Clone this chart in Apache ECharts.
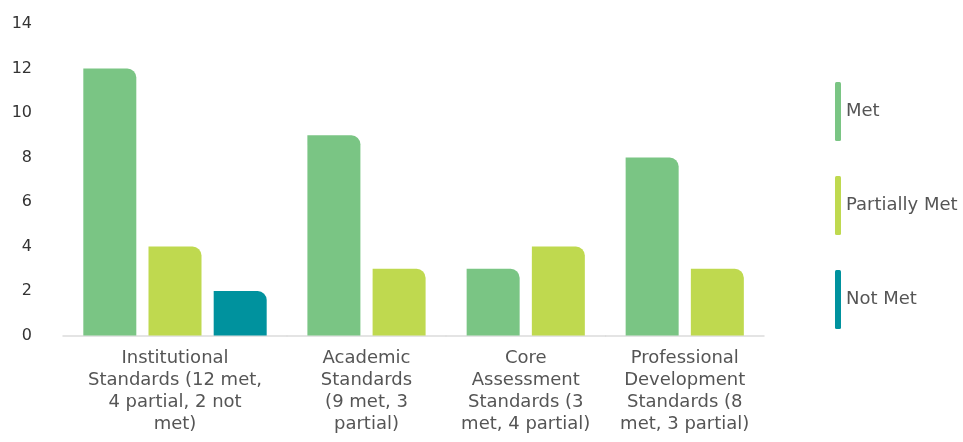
<!DOCTYPE html>
<html><head><meta charset="utf-8">
<script src="https://cdn.jsdelivr.net/npm/echarts@6/dist/echarts.min.js"></script>
<style>html,body{margin:0;padding:0;background:#fff}#c{width:963px;height:442px}</style>
</head><body><div id="c"></div>
<script>
const categories = [
  'Institutional\nStandards (12 met,\n4 partial, 2 not\nmet)',
  'Academic\nStandards\n(9 met, 3\npartial)',
  'Core\nAssessment\nStandards (3\nmet, 4 partial)',
  'Professional\nDevelopment\nStandards (8\nmet, 3 partial)'
];
const seriesNames = ['Met', 'Partially Met', 'Not Met'];
const met = [12, 9, 3, 8];
const partial = [4, 3, 4, 3];
const notMet = [2, null, null, null];
const yTicks = [0, 2, 4, 6, 8, 10, 12, 14];

const colors = ['#7AC584', '#BFD94F', '#00929E'];
const values = [met, partial, notMet];
const font = "'DejaVu Sans', sans-serif";

// grid horizontal extents (pixels)
const bounds = [63, 287, 446, 605.5, 764];
const grids = [], xAxes = [], yAxes = [], series = [];
categories.forEach((cat, i) => {
  grids.push({ left: bounds[i], width: bounds[i + 1] - bounds[i], top: 24, bottom: 106.5 });
  xAxes.push({
    type: 'category', gridIndex: i, data: [cat],
    axisTick: { show: false },
    axisLine: { lineStyle: { color: '#dcdcdc', width: 1.5 } },
    axisLabel: { interval: 0, margin: 12, color: '#555', fontSize: 18, lineHeight: 22, fontFamily: font }
  });
  yAxes.push({
    type: 'value', gridIndex: i, min: yTicks[0], max: yTicks[yTicks.length - 1], interval: 2,
    splitLine: { show: false }, axisLine: { show: false }, axisTick: { show: false },
    axisLabel: i === 0 ? { show: true, margin: 31, color: '#333', fontSize: 16, fontFamily: font, padding: [0, 0, 3, 0] } : { show: false }
  });
  seriesNames.forEach((name, s) => {
    const v = values[s][i];
    if (v === null || v === undefined) return;
    series.push({
      type: 'bar', name, xAxisIndex: i, yAxisIndex: i, data: [v],
      barWidth: 53, barGap: '23%',
      itemStyle: { color: colors[s], borderRadius: [0, 9, 0, 0] }
    });
  });
});

const chart = echarts.init(document.getElementById('c'), null, { renderer: 'canvas' });
chart.setOption({
  animation: false,
  color: colors,
  grid: grids, xAxis: xAxes, yAxis: yAxes, series,
  legend: {
    data: seriesNames, orient: 'vertical', left: 830, top: 77,
    itemWidth: 6, itemHeight: 59, itemGap: 35,
    icon: 'roundRect',
    textStyle: { color: '#555', fontSize: 18, fontFamily: font }
  }
});
</script></body></html>
